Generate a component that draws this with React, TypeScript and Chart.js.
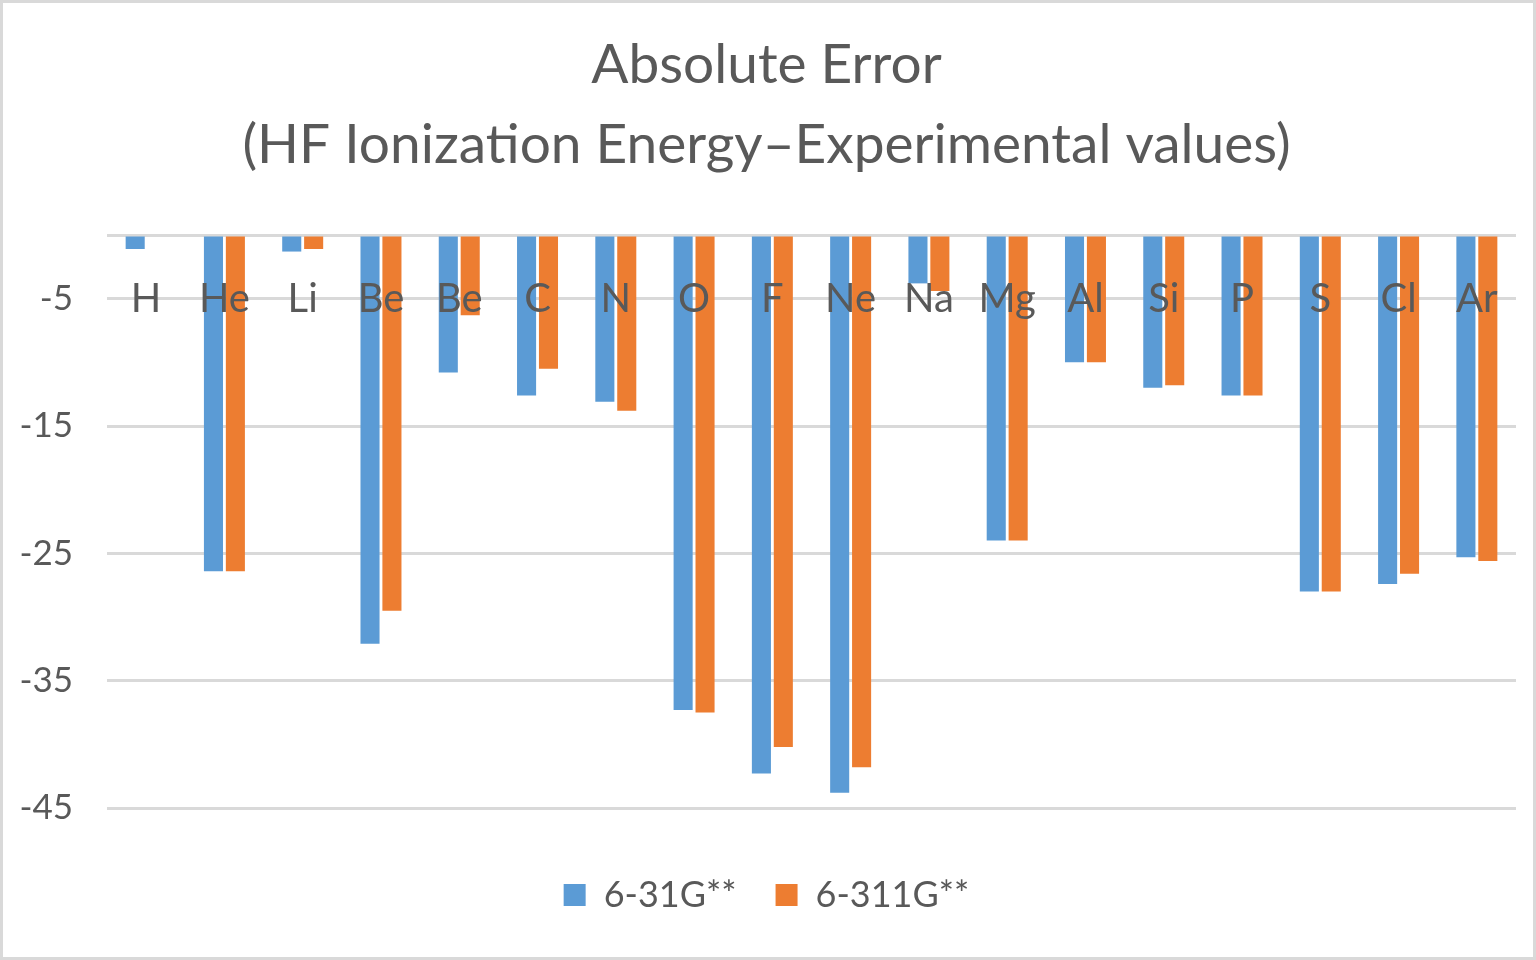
import React, { useEffect, useRef } from "react";
import { Chart, registerables } from "chart.js";

Chart.register(...registerables);

const categories = ["H", "He", "Li", "Be", "Be", "C", "N", "O", "F", "Ne", "Na", "Mg", "Al", "Si", "P", "S", "Cl", "Ar"];
const series631 = [-1.1, -26.4, -1.3, -32.1, -10.8, -12.6, -13.1, -37.3, -42.3, -43.8, -3.8, -24.0, -10.0, -12.0, -12.6, -28.0, -27.4, -25.3];
const series6311 = [0, -26.4, -1.1, -29.5, -6.3, -10.5, -13.8, -37.5, -40.2, -41.8, -4.4, -24.0, -10.0, -11.8, -12.6, -28.0, -26.6, -25.6];
const yTickValues = [-45, -35, -25, -15, -5, 0];
const titleLines = ["Absolute Error", "(HF Ionization Energy\u2013Experimental values)"];
const seriesNames = ["6-31G**", "6-311G**"];

const TEXT = "#595959";
const FONT = "Lato";

const categoryLabelPlugin = {
  id: "categoryLabels",
  afterDatasetsDraw(chart: any) {
    const { ctx, scales } = chart;
    const x = scales.x;
    const y = scales.y;
    ctx.save();
    ctx.font = `40px ${FONT}`;
    ctx.fillStyle = TEXT;
    ctx.textAlign = "center";
    ctx.textBaseline = "middle";
    const yy = y.getPixelForValue(-5);
    categories.forEach((c, i) => {
      ctx.fillText(c, x.getPixelForValue(i), yy);
    });
    ctx.restore();
  },
};

export default function App() {
  const ref = useRef<HTMLCanvasElement | null>(null);
  useEffect(() => {
    if (!ref.current) return;
    const chart = new Chart(ref.current, {
      type: "bar",
      data: {
        labels: categories,
        datasets: [
          { label: seriesNames[0], data: series631, backgroundColor: "#5B9BD5", borderWidth: 0 },
          { label: seriesNames[1], data: series6311, backgroundColor: "#ED7D31", borderWidth: 0 },
        ],
      },
      options: {
        animation: false,
        responsive: false,
        maintainAspectRatio: false,
        layout: { padding: { left: 14, right: 17, top: 0, bottom: 34 } },
        datasets: { bar: { categoryPercentage: 0.56, barPercentage: 0.87 } },
        scales: {
          x: {
            display: true,
            grid: { display: false },
            border: { display: false },
            ticks: { display: false },
            afterFit: (s: any) => {
              s.height = 30;
            },
          },
          y: {
            min: -45,
            max: 0,
            afterBuildTicks: (s: any) => {
              s.ticks = yTickValues.map((v) => ({ value: v }));
            },
            afterFit: (s: any) => {
              s.width = 90;
            },
            grid: { color: "#D9D9D9", lineWidth: 3, drawTicks: false },
            border: { display: false },
            ticks: {
              padding: 34,
              color: TEXT,
              font: { family: FONT, size: 35 },
              callback: (v: any) => (v === 0 ? "" : String(v)),
            },
          },
        },
        plugins: {
          title: {
            display: true,
            text: titleLines,
            color: TEXT,
            font: { family: FONT, size: 55, weight: "normal", lineHeight: 80 / 55 },
            padding: { top: 22, bottom: 50 },
          },
          legend: {
            position: "bottom",
            labels: {
              color: TEXT,
              font: { family: FONT, size: 36 },
              boxWidth: 22,
              boxHeight: 22,
              padding: 39,
            },
          },
          tooltip: { enabled: false },
        },
      },
      plugins: [categoryLabelPlugin],
    });
    if ((document as any).fonts && (document as any).fonts.ready) {
      (document as any).fonts.ready.then(() => chart.update());
    }
    return () => chart.destroy();
  }, []);
  return (
    <div
      style={{
        position: "absolute",
        left: 0,
        top: 0,
        width: 1536,
        height: 960,
        boxSizing: "border-box",
        border: "3px solid #D9D9D9",
        background: "#fff",
      }}
    >
      <canvas ref={ref} width={1530} height={954} style={{ display: "block" }} />
    </div>
  );
}
